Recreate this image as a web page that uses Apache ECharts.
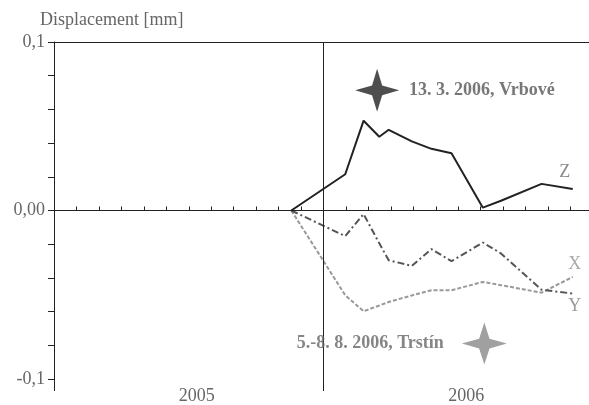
<!DOCTYPE html>
<html>
<head>
<meta charset="utf-8">
<script src="https://cdn.jsdelivr.net/npm/echarts@6/dist/echarts.min.js"></script>
<style>
  html, body { margin: 0; padding: 0; background: #fff; }
  #chart { width: 589px; height: 405px; }
</style>
</head>
<body>
<div id="chart"></div>
<script>
var dates = ['2005-11-18', '2006-01-31', '2006-02-23', '2006-03-16', '2006-03-29', '2006-04-29',
             '2006-05-26', '2006-06-22', '2006-08-04', '2006-08-29', '2006-10-23', '2006-12-04'];
// displacement [mm]
var zValues = [0, 0.0215, 0.0533, 0.0438, 0.0479, 0.0410, 0.0366, 0.0340, 0.0017, 0.0058, 0.0158, 0.0128];
var xValues = [0, -0.0503, -0.0598, -0.0564, -0.0543, -0.0504, -0.0473, -0.0473, -0.0424, -0.0443, -0.0488, -0.0394];
var yValues = [0, -0.0152, -0.0021, -0.0195, -0.0295, -0.0329, -0.0229, -0.0301, -0.0190, -0.0255, -0.0470, -0.0493];

// earthquakes
var eventNames = ['13. 3. 2006, Vrbové', '5.-8. 8. 2006, Trstín'];
var eventDates = ['2006-03-13', '2006-08-06'];
var eventValues = [0.0713, -0.0790];

var yearLabels = ['2005', '2006'];
var startYear = 2005;

// date string -> months since 1.1.2005
function toMonths(s) {
    var p = s.split('-').map(Number);
    var dim = new Date(p[0], p[1], 0).getDate();
    return (p[0] - startYear) * 12 + (p[1] - 1) + (p[2] - 1) / dim;
}
function pairs(vals) {
    return vals.map(function (v, i) { return [toMonths(dates[i]), v]; });
}

var FONT = '"Liberation Serif", "DejaVu Serif", serif';
var star = 'path://M0,-10 L2.3,-2.3 L10,0 L2.3,2.3 L0,10 L-2.3,2.3 L-10,0 L-2.3,-2.3 Z';

var chart = echarts.init(document.getElementById('chart'));
option = {
    animation: false,
    grid: {
        left: 54,
        width: 539,
        top: 42,
        bottom: 26,
        outerBoundsMode: 'none'
    },
    xAxis: [{
        type: 'value',
        min: 0,
        max: 24,
        interval: 1,
        axisLine: { lineStyle: { color: '#222', width: 1 } },
        axisTick: { inside: true, length: 4, lineStyle: { color: '#222' } },
        splitLine: { show: false },
        axisLabel: {
            margin: 8,
            fontFamily: FONT,
            fontSize: 18,
            color: '#666',
            padding: [0, 0, 0, 16],
            formatter: function (v) {
                if (v % 12 === 6) return yearLabels[(v - 6) / 12] || '';
                return '';
            }
        }
    }, {
        // longer ticks at year boundaries
        type: 'value',
        position: 'bottom',
        min: 0,
        max: 24,
        interval: 12,
        axisLine: { show: false },
        axisTick: { length: 12, lineStyle: { color: '#222' } },
        axisLabel: { show: false },
        splitLine: { show: false }
    }],
    yAxis: {
        type: 'value',
        min: -0.1,
        max: 0.1,
        interval: 0.02,
        name: 'Displacement [mm]',
        nameLocation: 'end',
        nameGap: 13,
        nameTextStyle: {
            fontFamily: FONT,
            fontSize: 18,
            color: '#666',
            align: 'left',
            padding: [0, 0, 0, -14]
        },
        axisLine: { show: true, lineStyle: { color: '#222' } },
        axisTick: { show: true, length: 6, lineStyle: { color: '#222' } },
        splitLine: { show: false },
        axisLabel: {
            margin: 9,
            fontFamily: FONT,
            fontSize: 18,
            color: '#666',
            formatter: function (v) {
                if (Math.abs(v - 0.1) < 1e-9) return '0,1';
                if (Math.abs(v) < 1e-9) return '0,00';
                if (Math.abs(v + 0.1) < 1e-9) return '-0,1';
                return '';
            }
        }
    },
    series: [{
        name: 'Z',
        type: 'line',
        data: pairs(zValues),
        symbol: 'none',
        z: 5,
        lineStyle: { color: '#222', width: 2 },
        markLine: {
            silent: true,
            symbol: 'none',
            label: { show: false },
            lineStyle: { color: '#222', width: 1, type: 'solid' },
            data: [{ yAxis: 0.1 }, { yAxis: 0 }, { xAxis: 12 }]
        },
        markPoint: {
            symbol: 'circle',
            symbolSize: 0,
            label: { show: true, formatter: 'Z', fontFamily: FONT, fontSize: 18, color: '#888', offset: [-8, -17] },
            data: [{ coord: [toMonths(dates[dates.length - 1]), zValues[zValues.length - 1]] }]
        }
    }, {
        name: 'X',
        type: 'line',
        data: pairs(xValues),
        symbol: 'none',
        z: 3,
        lineStyle: { color: '#999', width: 2, type: [4, 2] },
        markPoint: {
            symbol: 'circle',
            symbolSize: 0,
            label: { show: true, formatter: 'X', fontFamily: FONT, fontSize: 18, color: '#aaa', offset: [2, -13] },
            data: [{ coord: [toMonths(dates[dates.length - 1]), xValues[xValues.length - 1]] }]
        }
    }, {
        name: 'Y',
        type: 'line',
        data: pairs(yValues),
        symbol: 'none',
        z: 4,
        lineStyle: { color: '#555', width: 2, type: [7, 3, 2, 3] },
        markPoint: {
            symbol: 'circle',
            symbolSize: 0,
            label: { show: true, formatter: 'Y', fontFamily: FONT, fontSize: 18, color: '#999', offset: [2, 13] },
            data: [{ coord: [toMonths(dates[dates.length - 1]), yValues[yValues.length - 1]] }]
        }
    }, {
        name: 'events',
        type: 'scatter',
        symbol: star,
        z: 6,
        data: [{
            value: [toMonths(eventDates[0]), eventValues[0]],
            symbolSize: [44, 43],
            itemStyle: { color: '#222' },
            label: { show: true, position: 'right', distance: 10, formatter: eventNames[0],
                     fontFamily: FONT, fontSize: 18, fontWeight: 'bold', color: '#555' }
        }, {
            value: [toMonths(eventDates[1]), eventValues[1]],
            symbolSize: [45, 42],
            itemStyle: { color: '#888' },
            label: { show: true, position: 'left', distance: 18, formatter: eventNames[1],
                     fontFamily: FONT, fontSize: 18, fontWeight: 'bold', color: '#666' }
        }]
    }]
};
chart.setOption(option);
</script>
</body>
</html>
